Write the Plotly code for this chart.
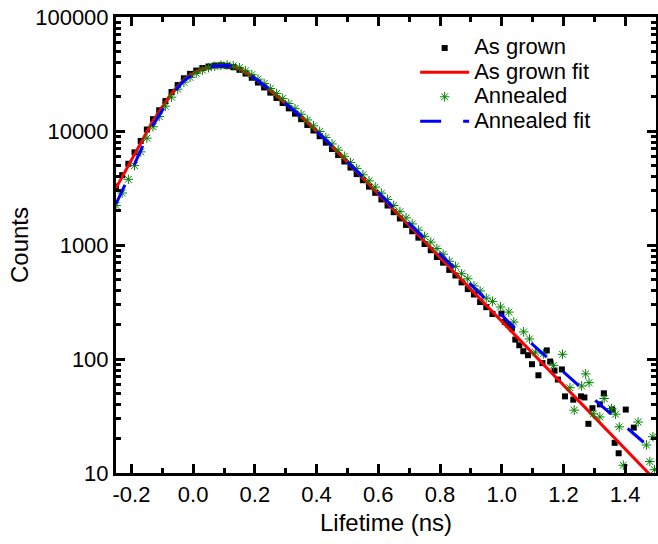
import plotly.graph_objects as go

# lifetime grid (ns) shared by the fits and the dense part of the data
lifetime = [
    -0.25, -0.23, -0.21, -0.19, -0.17, -0.15, -0.13, -0.11, -0.09, -0.07,
    -0.05, -0.03, -0.01, 0.01, 0.03, 0.05, 0.07, 0.09, 0.11, 0.13,
    0.15, 0.17, 0.19, 0.21, 0.23, 0.25, 0.27, 0.29, 0.31, 0.33,
    0.35, 0.37, 0.39, 0.41, 0.43, 0.45, 0.47, 0.49, 0.51, 0.53,
    0.55, 0.57, 0.59, 0.61, 0.63, 0.65, 0.67, 0.69, 0.71, 0.73,
    0.75, 0.77, 0.79, 0.81, 0.83, 0.85, 0.87, 0.89, 0.91, 0.93,
    0.95, 0.97, 0.99, 1.01, 1.03, 1.05, 1.07, 1.09, 1.11, 1.13,
    1.15, 1.17, 1.19, 1.21, 1.23, 1.25, 1.27, 1.29, 1.31, 1.33,
    1.35, 1.37, 1.39, 1.41, 1.43, 1.45, 1.47, 1.49]

as_grown_fit = [
    3162, 3981, 5012, 6310, 7943, 10000, 12303, 14791, 17783, 21380,
    24547, 28184, 30903, 33113, 35075, 36308, 37154, 37584, 37584, 36728,
    35075, 32734, 30200, 27542, 25119, 22646, 20417, 18408, 16596, 14962,
    13335, 11885, 10593, 9441, 8318, 7328, 6457, 5689, 5012, 4416,
    3890, 3428, 3013, 2649, 2328, 2046, 1799, 1581, 1390, 1222,
    1074, 944, 830, 729, 641, 564, 495, 436, 383, 337,
    296, 260, 229, 201, 177, 155, 136, 120, 105, 92.7,
    81.5, 71.6, 63.0, 55.3, 48.6, 42.8, 37.6, 33.0, 29.0, 25.5,
    22.4, 19.7, 17.3, 15.2, 13.4, 11.8, 10.4, 9.1]

annealed_fit = [
    2291, 2951, 3890, 5129, 6761, 8913, 11220, 13804, 16982, 20417,
    23988, 27542, 30200, 32734, 34674, 36308, 37154, 37584, 37584, 36728,
    35075, 32734, 30200, 27542, 25119, 22646, 20417, 18408, 16596, 14962,
    13335, 11885, 10593, 9441, 8318, 7328, 6457, 5702, 5035, 4446,
    3926, 3467, 3062, 2704, 2388, 2109, 1862, 1644, 1452, 1282,
    1132, 1000, 883, 780, 689, 608, 537, 474, 419, 370,
    327, 289, 256, 226, 200, 178, 159, 142, 127, 113,
    101, 90.4, 80.7, 72.1, 64.4, 57.8, 51.9, 46.6, 41.8, 37.5,
    33.7, 30.2, 27.1, 24.3, 21.8, 19.6, 17.6, 15.8]

# measured counts on the first 62 grid points (-0.25 .. 0.97 ns)
as_grown_counts = [
    3260, 4100, 5160, 6500, 8180, 10300, 12700, 15200, 18300, 22000,
    25300, 29000, 31700, 33900, 35700, 36800, 37500, 37700, 37300, 36300,
    34400, 31900, 29300, 26600, 24100, 21700, 19500, 17600, 15800, 14200,
    12700, 11300, 10100, 9000, 7900, 6950, 6150, 5400, 4780, 4190,
    3700, 3250, 2870, 2510, 2220, 1940, 1710, 1500, 1320, 1160,
    1020, 900, 785, 700, 605, 540, 470, 410, 368, 316,
    285, 248]

annealed_counts = [
    2220, 2860, 3770, 4970, 6560, 8650, 10900, 13400, 16500, 19800,
    23300, 26800, 29500, 32100, 34200, 36000, 37000, 37700, 37900, 37300,
    35900, 33700, 31200, 28500, 26100, 23600, 21300, 19300, 17400, 15700,
    14000, 12500, 11100, 9900, 8750, 7700, 6800, 6000, 5300, 4680,
    4130, 3650, 3220, 2850, 2510, 2220, 1960, 1730, 1530, 1350,
    1190, 1060, 930, 830, 720, 650, 560, 505, 438, 395,
    342, 320]

# noisy tails
as_grown_tail_t = [0.999, 1.010, 1.021, 1.033, 1.044, 1.057, 1.070, 1.085, 1.098, 1.119,
                   1.132, 1.146, 1.157, 1.171, 1.182, 1.195, 1.205, 1.232, 1.257, 1.268,
                   1.281, 1.294, 1.318, 1.331, 1.358, 1.366, 1.379, 1.402, 1.428]
as_grown_tail_counts = [250, 211, 200, 185, 148, 132, 117, 108, 90, 72,
                        92, 119, 95, 79, 66, 81, 47, 44, 47, 46,
                        27, 37, 40, 50, 36, 18.4, 14.9, 36, 25]

annealed_tail_t = [0.996, 1.023, 1.039, 1.071, 1.090, 1.109, 1.135, 1.168, 1.197, 1.221,
                   1.235, 1.259, 1.272, 1.283, 1.297, 1.318, 1.332, 1.356, 1.369, 1.381,
                   1.394, 1.442, 1.469, 1.480, 1.490, 1.495]
annealed_tail_counts = [286, 258, 211, 173, 150, 115, 111, 88, 110, 56,
                        35.6, 58, 74, 62, 33, 31, 45, 36.8, 32.8, 25.4,
                        11.7, 28, 17.6, 12.6, 20.8, 10.7]

x_ticks = [-0.2, 0.0, 0.2, 0.4, 0.6, 0.8, 1.0, 1.2, 1.4]
x_labels = ["-0.2", "0.0", "0.2", "0.4", "0.6", "0.8", "1.0", "1.2", "1.4"]
y_ticks = [10, 100, 1000, 10000, 100000]
y_labels = ["10", "100", "1000", "10000", "100000"]

n = len(as_grown_counts)


def legend_name(text):
    # bigger text than the legend font, so the rows stay tight
    return '<span style="font-size:22px">' + text + '</span>'


fig = go.Figure()
fig.add_trace(go.Scatter(
    x=lifetime[:n] + as_grown_tail_t, y=as_grown_counts + as_grown_tail_counts,
    mode="markers", name=legend_name("As grown"),
    marker=dict(symbol="square", size=6, color="black")))
fig.add_trace(go.Scatter(
    x=lifetime, y=as_grown_fit, mode="lines", name=legend_name("As grown fit"),
    line=dict(color="#ff0000", width=3)))
fig.add_trace(go.Scatter(
    x=lifetime[:n] + annealed_tail_t, y=annealed_counts + annealed_tail_counts,
    mode="markers", name=legend_name("Annealed"),
    marker=dict(symbol="asterisk-open", size=8, color="#008000",
                line=dict(color="#008000", width=1))))
fig.add_trace(go.Scatter(
    x=lifetime, y=annealed_fit, mode="lines", name=legend_name("Annealed fit"),
    line=dict(color="#0000ff", width=3, dash="21px,22px")))

axis_style = dict(showline=True, linewidth=3, linecolor="black", mirror="ticks",
                  ticks="inside", ticklen=9, tickwidth=3, tickcolor="black",
                  showgrid=False, zeroline=False, automargin=False,
                  ticklabeloverflow="allow", tickfont=dict(size=22))

fig.update_xaxes(range=[-0.25, 1.5], tickmode="array", tickvals=x_ticks, ticktext=x_labels,
                 minor=dict(dtick=0.1, tick0=0, ticks="inside", ticklen=5, tickwidth=2.5,
                            tickcolor="black", showgrid=False),
                 title=dict(text="Lifetime (ns)", font=dict(size=24), standoff=8),
                 **axis_style)
fig.update_yaxes(type="log", range=[1, 5], tickmode="array", tickvals=y_ticks, ticktext=y_labels,
                 minor=dict(dtick="D1", ticks="inside", ticklen=5, tickwidth=2.5,
                            tickcolor="black", showgrid=False),
                 title=dict(text="Counts", font=dict(size=24), standoff=0),
                 **axis_style)

fig.update_layout(
    width=658, height=544,
    margin=dict(l=116, r=2, t=17, b=71),
    paper_bgcolor="white", plot_bgcolor="white",
    font=dict(family="Arial, Liberation Sans, sans-serif", size=22, color="black"),
    legend=dict(x=0.554, y=0.97, xanchor="left", yanchor="top",
                font=dict(size=16.5), bgcolor="rgba(0,0,0,0)",
                tracegroupgap=0, itemwidth=49),
)

# drop the default page margin so the figure sits at the window's corner
fig.write_html("out.html", config={"displayModeBar": False},
               post_script="document.body.style.margin = '0';")
